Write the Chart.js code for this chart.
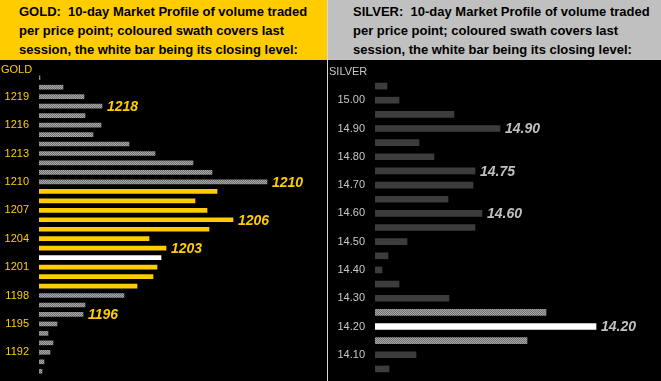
<!DOCTYPE html>
<html><head><meta charset="utf-8">
<script src="https://cdn.jsdelivr.net/npm/chart.js@4"></script>
<style>
html,body{margin:0;padding:0;background:#000;width:661px;height:381px;overflow:hidden;}
.hdr{position:absolute;top:0;height:60px;font:bold 13px "Liberation Sans",Arial,sans-serif;color:#000;line-height:19px;white-space:nowrap;box-sizing:border-box;padding-top:2px;}
#gh{left:0;width:327px;background:#ffcc00;padding-left:19px;}
#sh{left:328px;width:333px;background:#c0c0c0;padding-left:25px;}
#sep{position:absolute;left:327px;top:0;width:1px;height:381px;background:#d8d8d8;}
.box{position:absolute;top:60px;height:321px;}
#gbox{left:0;width:327px;}
#sbox{left:328px;width:333px;}
</style></head>
<body>
<div id="gh" class="hdr">GOLD:&nbsp; 10-day Market Profile of volume traded<br>per price point; coloured swath covers last<br>session, the white bar being its closing level:</div>
<div id="sh" class="hdr">SILVER:&nbsp; 10-day Market Profile of volume traded<br>per price point; coloured swath covers last<br>session, the white bar being its closing level:</div>
<div id="sep"></div>
<div id="gbox" class="box"><canvas id="gold"></canvas></div>
<div id="sbox" class="box"><canvas id="silver"></canvas></div>
<script>
// ---- GOLD data ----
const goldPrices = ['1221','1220','1219','1218','1217','1216','1215','1214','1213','1212','1211','1210','1209','1208','1207','1206','1205','1204','1203','1202','1201','1200','1199','1198','1197','1196','1195','1194','1193','1192','1191','1190'];
const goldVolume = [1,24,45,63,46,62,54,90,116,154,173,228,178,156,168,194,170,110,127,122,118,114,98,85,46,44,18,9,14,11,5,3];
const goldTicks = ['1219','1216','1213','1210','1207','1204','1201','1198','1195','1192'];
const goldSession = ['1209','1208','1207','1206','1205','1204','1203','1202','1201','1200','1199'];
const goldClose = '1202';
const goldMarks = ['1218','1210','1206','1203','1196'];

// ---- SILVER data ----
const silverPrices = ['15.05','15.00','14.95','14.90','14.85','14.80','14.75','14.70','14.65','14.60','14.55','14.50','14.45','14.40','14.35','14.30','14.25','14.20','14.15','14.10','14.05'];
const silverVolume = [12,24,79,125,44,59,100,98,73,107,100,32,13,7,24,74,171,221,152,41,14];
const silverTicks = ['15.00','14.90','14.80','14.70','14.60','14.50','14.40','14.30','14.20','14.10'];
const silverSession = ['14.25','14.20','14.15'];
const silverClose = '14.20';
const silverMarks = ['14.90','14.75','14.60','14.20'];

function checker(a, b){
  const c = document.createElement('canvas'); c.width = 2; c.height = 2;
  const x = c.getContext('2d');
  x.fillStyle = a; x.fillRect(0,0,2,2);
  x.fillStyle = b; x.fillRect(0,0,1,1); x.fillRect(1,1,1,1);
  return x.createPattern(c, 'repeat');
}
const grayDither = checker('#a8a8a8', '#707070');

const marksPlugin = {
  id: 'marks',
  afterDatasetsDraw(chart, args, o){
    const {ctx, scales:{x, y}} = chart;
    const labels = chart.data.labels;
    const vals = chart.data.datasets[0].data;
    ctx.save();
    ctx.font = 'italic bold 14px "Liberation Sans", Arial, sans-serif';
    ctx.textBaseline = 'middle'; ctx.textAlign = 'left';
    ctx.fillStyle = o.color;
    o.marks.forEach(m => {
      const i = labels.indexOf(m);
      ctx.fillText(m, x.getPixelForValue(vals[i]) + 5, y.getPixelForValue(i) + 1);
    });
    ctx.font = '11px "Liberation Sans", Arial, sans-serif';
    ctx.fillStyle = o.tickColor;
    ctx.fillText(o.corner, 1, o.cornerY);
    ctx.restore();
  }
};

function makeChart(id, prices, volume, ticks, session, close, colors, axisW, pad, thick, marks, corner, cornerY){
  const bg = prices.map(p => p === close ? '#ffffff' : (session.includes(p) ? colors.session : colors.base));
  return new Chart(document.getElementById(id), {
    type: 'bar',
    data: { labels: prices, datasets: [{ data: volume, backgroundColor: bg, borderWidth: 0, barThickness: thick }] },
    options: {
      indexAxis: 'y',
      responsive: true, maintainAspectRatio: false, animation: false,
      layout: { padding: pad },
      plugins: { legend: {display:false}, tooltip: {enabled:false},
        marks: { marks: marks, color: colors.mark, tickColor: colors.tick, corner: corner, cornerY: cornerY } },
      scales: {
        x: { display: false, min: 0, max: 280 },
        y: {
          grid: { display: false, drawTicks: false }, border: { display: false },
          afterFit(s){ s.width = axisW; s.paddingTop = 0; s.paddingBottom = 0; },
          ticks: { autoSkip: false, padding: 10, color: colors.tick,
            font: { family: '"Liberation Sans", Arial, sans-serif', size: 11 },
            callback(v){ const l = this.getLabelForValue(v); return ticks.includes(l) ? l : ''; } }
        }
      }
    },
    plugins: [marksPlugin]
  });
}

makeChart('gold', goldPrices, goldVolume, goldTicks, goldSession, goldClose,
  { base: grayDither, session: '#ffcc00', mark: '#ffcc00', tick: '#ffcc00' },
  39, { top: 13, bottom: 5, right: 8, left: 0 }, 4, goldMarks, 'GOLD', 10);
makeChart('silver', silverPrices, silverVolume, silverTicks, silverSession, silverClose,
  { base: '#3c3c3c', session: grayDither, mark: '#c0c0c0', tick: '#c8c8c8' },
  47, { top: 19, bottom: 5, right: 6, left: 0 }, 6, silverMarks, 'SILVER', 12);
</script>
</body></html>
